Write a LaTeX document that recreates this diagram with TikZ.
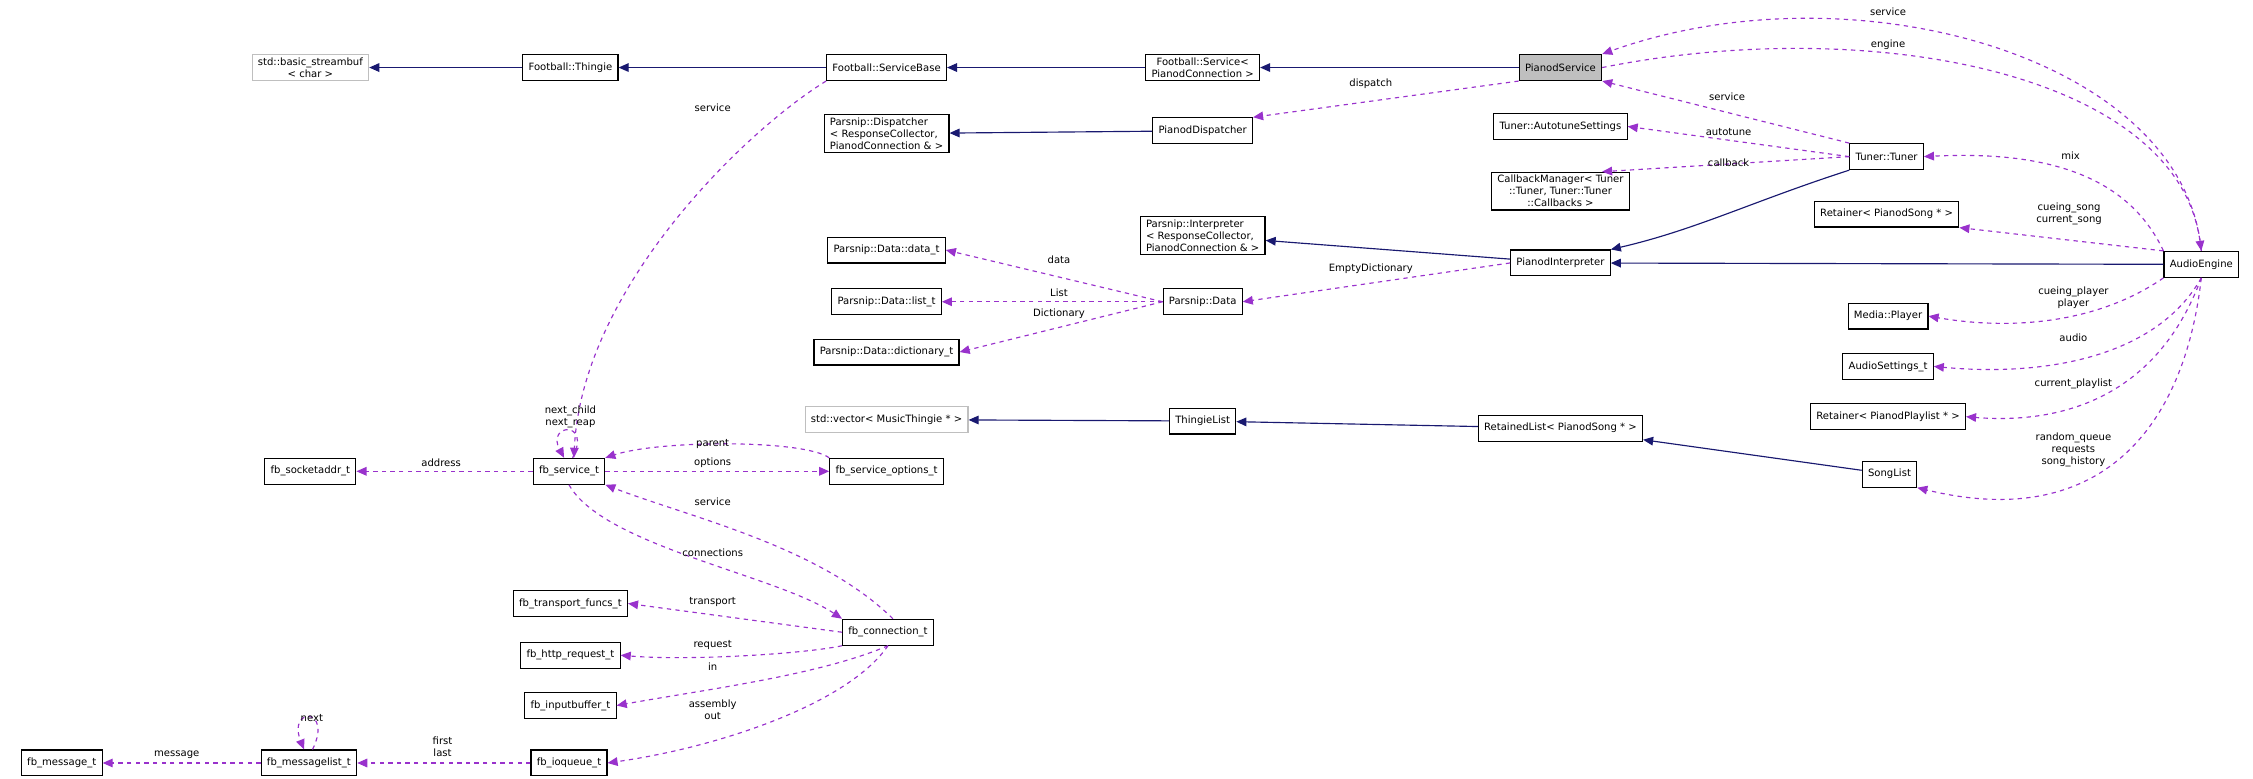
\documentclass[tikz,border=0pt]{standalone}
\usepackage{fontspec}
\setmainfont{DejaVu Sans}
\usetikzlibrary{arrows.meta}
\definecolor{inhcol}{RGB}{25,25,112}
\definecolor{usecol}{RGB}{153,50,204}
\definecolor{extcol}{RGB}{191,191,191}
\tikzset{
  cls/.style={draw, rectangle, thick, fill=white, font=\fontsize{7}{8.4}\selectfont,
              minimum height=18pt, inner xsep=4pt, inner ysep=2pt, align=center},
  ext/.style={cls, draw=extcol},
  cur/.style={cls, fill=extcol},
  lbl/.style={font=\fontsize{7}{8.4}\selectfont, inner sep=0pt, align=center},
  inh/.style={draw=inhcol, thick, -{Triangle[length=7pt,width=6pt]}},
  use/.style={draw=usecol, thick, dashed, -{Triangle[length=7pt,width=6pt]}}
}
\begin{document}
\begin{tikzpicture}[x=1pt, y=-1pt]
\useasboundingbox (0,0) rectangle (1568,542);
% classes
\node (streambuf) [ext] at (216,47) {std::basic\_streambuf\\< char >};
\node (thingie) [cls] at (397,47) {Football::Thingie};
\node (sbase) [cls] at (617,47) {Football::ServiceBase};
\node (fservice) [cls] at (837,47) {Football::Service<\\PianodConnection >};
\node (psvc) [cur] at (1086,47) {PianodService};
\node (pdispatch) [cls, align=left] at (617,93) {Parsnip::Dispatcher\\< ResponseCollector,\\ PianodConnection \& >};
\node (pdisp) [cls] at (837,91) {PianodDispatcher};
\node (autotune) [cls] at (1086,88) {Tuner::AutotuneSettings};
\node (tuner) [cls] at (1313,109) {Tuner::Tuner};
\node (cbmgr) [cls] at (1086,133) {CallbackManager< Tuner\\::Tuner, Tuner::Tuner\\::Callbacks >};
\node (interp) [cls, align=left] at (837,164) {Parsnip::Interpreter\\< ResponseCollector,\\ PianodConnection \& >};
\node (pinterp) [cls] at (1086,183) {PianodInterpreter};
\node (retsong) [cls] at (1313,149) {Retainer< PianodSong * >};
\node (aengine) [cls] at (1532,184) {AudioEngine};
\node (datat) [cls] at (617,174) {Parsnip::Data::data\_t};
\node (listt) [cls] at (617,210) {Parsnip::Data::list\_t};
\node (dictt) [cls] at (617,245) {Parsnip::Data::dictionary\_t};
\node (pdata) [cls] at (837,210) {Parsnip::Data};
\node (mplayer) [cls] at (1314,220) {Media::Player};
\node (asettings) [cls] at (1314,255) {AudioSettings\_t};
\node (retpl) [cls] at (1314,290) {Retainer< PianodPlaylist * >};
\node (svec) [ext] at (617,292) {std::vector< MusicThingie * >};
\node (thlist) [cls] at (837,293) {ThingieList};
\node (rlist) [cls] at (1086,298) {RetainedList< PianodSong * >};
\node (songlist) [cls] at (1315,330) {SongList};
\node (sockaddr) [cls] at (216,328) {fb\_socketaddr\_t};
\node (fbserv) [cls] at (396,328) {fb\_service\_t};
\node (fbopts) [cls] at (617,328) {fb\_service\_options\_t};
\node (transport) [cls] at (397,420) {fb\_transport\_funcs\_t};
\node (fbconn) [cls] at (618,440) {fb\_connection\_t};
\node (httpreq) [cls] at (397,456) {fb\_http\_request\_t};
\node (inbuf) [cls] at (397,491) {fb\_inputbuffer\_t};
\node (ioq) [cls] at (396,531) {fb\_ioqueue\_t};
\node (mlist) [cls] at (215,531) {fb\_messagelist\_t};
\node (msg) [cls] at (43,531) {fb\_message\_t};

% inheritance
\draw [inh] (thingie) -- (streambuf);
\draw [inh] (sbase) -- (thingie);
\draw [inh] (fservice) -- (sbase);
\draw [inh] (psvc) -- (fservice);
\draw [inh] (pdisp) -- (pdispatch);
\draw [inh] (pinterp) -- (interp);
\draw [inh] (tuner.south west) .. controls (1220,140) and (1180,160) .. (pinterp.north east);
\draw [inh] (aengine) -- (pinterp);
\draw [inh] (thlist) -- (svec);
\draw [inh] (rlist) -- (thlist);
\draw [inh] (songlist) -- (rlist);

% members
\draw [use] (sbase.south west) .. controls (520,90) and (405,200) .. (fbserv.70);
\draw [use] (psvc.south west) -- (pdisp.north east);
\draw [use] (tuner.north west) -- (psvc.south east);
\draw [use] (tuner.west) -- (autotune.east);
\draw [use] (tuner.west) -- (cbmgr.25);
\draw [use] (aengine.north) .. controls (1520,40) and (1290,-25) .. (psvc.north east);
\draw [use] (psvc.east) .. controls (1300,10) and (1515,50) .. (aengine.north);
\draw [use] (aengine.north west) .. controls (1480,120) and (1420,105) .. (tuner.east);
\draw [use] (aengine.north west) -- (retsong.south east);
\draw [use] (aengine.south west) .. controls (1460,225) and (1400,230) .. (mplayer.east);
\draw [use] (aengine.south) .. controls (1500,250) and (1420,262) .. (asettings.east);
\draw [use] (aengine.south) .. controls (1500,280) and (1430,295) .. (retpl.east);
\draw [use] (aengine.south) .. controls (1520,300) and (1460,370) .. (songlist.south east);
\draw [use] (pinterp.west) -- (pdata.east);
\draw [use] (pdata.west) -- (datat.east);
\draw [use] (pdata) -- (listt);
\draw [use] (pdata.west) -- (dictt.east);
\draw [use] (fbserv) -- (sockaddr);
\draw [use] (fbserv.75) .. controls (412,292) and (380,295) .. (fbserv.110);
\draw [use] (fbopts.north west) .. controls (560,306) and (460,306) .. (fbserv.north east);
\draw [use] (fbserv) -- (fbopts);
\draw [use] (fbconn.70) .. controls (570,380) and (480,360) .. (fbserv.south east);
\draw [use] (fbserv.south) .. controls (420,380) and (540,400) .. (fbconn.north west);
\draw [use] (fbconn.west) -- (transport.east);
\draw [use] (fbconn.south west) .. controls (560,455) and (480,460) .. (httpreq.east);
\draw [use] (fbconn.south) .. controls (570,470) and (490,480) .. (inbuf.east);
\draw [use] (fbconn.south) .. controls (590,490) and (500,520) .. (ioq.east);
\draw [use] (ioq) -- (mlist);
\draw [use] (mlist.75) .. controls (232,492) and (200,492) .. (mlist.110);
\draw [use] (mlist) -- (msg);

% member labels
\node (lsbase) [lbl] at (496,75) {service};
\node (ldispatch) [lbl] at (954,58) {dispatch};
\node (ltsvc) [lbl] at (1202,67) {service};
\node (lautotune) [lbl] at (1203,92) {autotune};
\node (lcallback) [lbl] at (1203,113) {callback};
\node (lasvc) [lbl] at (1314,8) {service};
\node (lengine) [lbl] at (1314,31) {engine};
\node (lmix) [lbl] at (1441,108) {mix};
\node (lsong) [lbl] at (1440,149) {cueing\_song\\current\_song};
\node (lplayer) [lbl] at (1443,207) {cueing\_player\\player};
\node (laudio) [lbl] at (1443,235) {audio};
\node (lplaylist) [lbl] at (1443,267) {current\_playlist};
\node (lqueue) [lbl] at (1443,313) {random\_queue\\requests\\song\_history};
\node (lempty) [lbl] at (954,187) {EmptyDictionary};
\node (ldata) [lbl] at (737,181) {data};
\node (llist) [lbl] at (737,204) {List};
\node (ldict) [lbl] at (737,218) {Dictionary};
\node (laddress) [lbl] at (307,322) {address};
\node (lchild) [lbl] at (397,290) {next\_child\\next\_reap};
\node (lparent) [lbl] at (496,309) {parent};
\node (loptions) [lbl] at (496,322) {options};
\node (lcsvc) [lbl] at (496,349) {service};
\node (lconns) [lbl] at (496,385) {connections};
\node (ltransport) [lbl] at (496,419) {transport};
\node (lrequest) [lbl] at (496,449) {request};
\node (lin) [lbl] at (496,464) {in};
\node (lout) [lbl] at (496,494) {assembly\\out};
\node (lfirst) [lbl] at (308,520) {first\\last};
\node (lmessage) [lbl] at (123,525) {message};
\node (lnext) [lbl] at (217,500) {next};
\end{tikzpicture}
\end{document}
